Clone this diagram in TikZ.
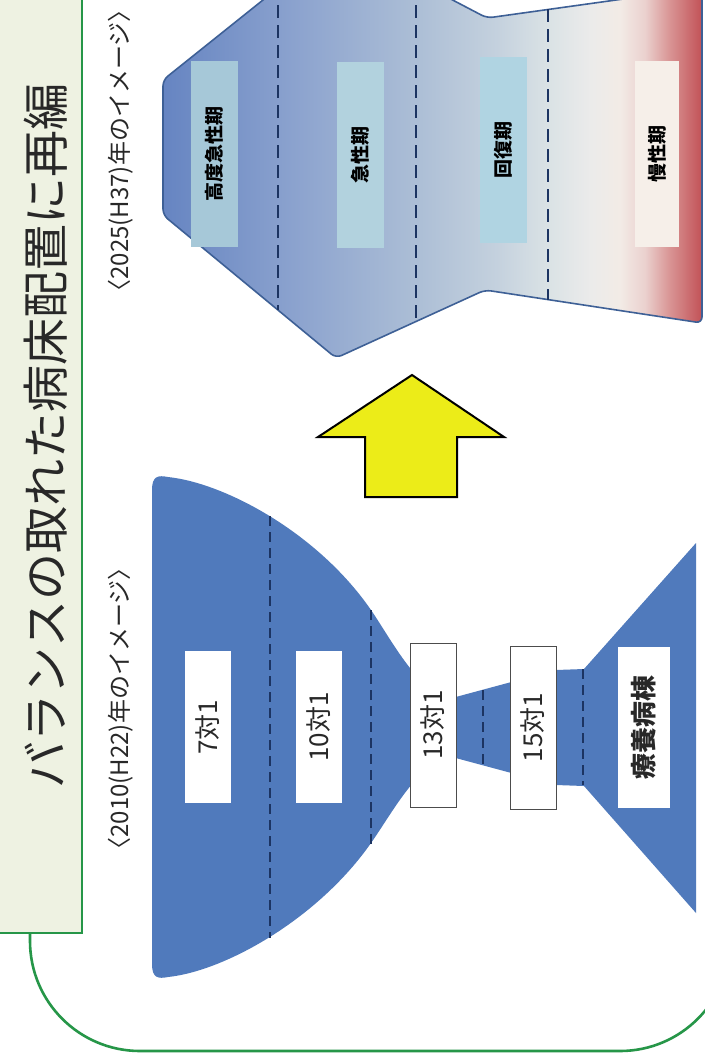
\documentclass[tikz,border=0pt]{standalone}
\usepackage{fontspec}
\setmainfont{Noto Sans CJK JP}

\definecolor{framegreen}{RGB}{38,150,72}
\definecolor{titlefill}{RGB}{238,242,226}
\definecolor{inkgray}{RGB}{40,40,40}
\definecolor{lowblue}{RGB}{80,122,188}
\definecolor{dashnavy}{RGB}{28,52,98}
\definecolor{upline}{RGB}{62,96,150}
\definecolor{arrowyellow}{RGB}{236,236,24}
\definecolor{hiacute}{RGB}{166,200,216}
\definecolor{acute}{RGB}{178,210,222}
\definecolor{recov}{RGB}{176,212,226}
\definecolor{chronic}{RGB}{246,239,233}

\pgfdeclarehorizontalshading{bedshade}{100bp}{rgb(0bp)=(0.40,0.52,0.76); rgb(25bp)=(0.40,0.52,0.76); rgb(37.5bp)=(0.55,0.64,0.81); rgb(49bp)=(0.68,0.75,0.84); rgb(56bp)=(0.77,0.82,0.87); rgb(61bp)=(0.86,0.89,0.90); rgb(64.5bp)=(0.92,0.92,0.92); rgb(67.4bp)=(0.95,0.92,0.90); rgb(69.7bp)=(0.92,0.82,0.81); rgb(72bp)=(0.85,0.58,0.58); rgb(75bp)=(0.76,0.32,0.34); rgb(100bp)=(0.76,0.32,0.34)}

\begin{document}
\begin{tikzpicture}[x=0.5pt,y=-0.5pt,
    lowbox/.style={rotate=90,fill=white,inner sep=0pt,minimum width=76pt,minimum height=23pt,text=inkgray,font=\fontsize{13}{13}\selectfont},
    lowboxline/.style={lowbox,draw=gray!60!black,line width=0.5pt},
    upbox/.style={rotate=90,inner sep=0pt,minimum width=93pt,minimum height=23.5pt,text=black,font=\fontsize{9.5}{10}\bfseries\selectfont},
    yearlabel/.style={rotate=90,inner sep=0pt,text=inkgray,font=\fontsize{12}{12}\selectfont},
    lowdash/.style={dashnavy,line width=0.8pt,dash pattern=on 5pt off 3pt},
    updash/.style={dashnavy,line width=1.1pt,dash pattern=on 6.5pt off 3.5pt}]
  \useasboundingbox (0,0) rectangle (705,1062);
  \clip (0,0) rectangle (705,1062);
  \fill[white] (0,0) rectangle (705,1062);
  % Ram
  \draw[framegreen,line width=1.3pt,rounded corners=55pt] (30,900) -- (30,1051) -- (730,1051) -- (730,-20);
  % Rubrik
  \draw[framegreen,fill=titlefill,line width=1.2pt] (-10,-10) rectangle (82,933);
  \node[rotate=90,text=inkgray,font=\fontsize{23.5}{24}\selectfont] (title) at (46,436) {バランスの取れた病床配置に再編};
  % Etiketter
  \node[yearlabel] (lab25) at (121,151) {〈2025(H37)年のイメージ〉};
  \node[yearlabel] (lab10) at (121,709) {〈2010(H22)年のイメージ〉};
  % 2025
  \shadedraw[shading=bedshade,draw=upline,line width=0.8pt,rounded corners=3pt]
    (163,215) -- (163,80) -- (338,-60) -- (487,18) -- (702,-12) -- (702,323) -- (485,290) -- (336,358) -- cycle;
  \foreach \x/\a/\b in {278/-15/310, 416/-15/321, 548/9/300}
    \draw[updash] (\x,\a) -- (\x,\b);
  \node[upbox,fill=hiacute] (hq) at (214.5,153.5) {高度急性期};
  \node[upbox,fill=acute] (ac) at (360.5,155) {急性期};
  \node[upbox,fill=recov] (rc) at (503.5,149.5) {回復期};
  \node[upbox,fill=chronic,minimum height=22pt] (ch) at (657,154) {慢性期};
  % Pil
  \draw[fill=arrowyellow,line width=1pt] (412,375) -- (504,437) -- (457,437) -- (457,497) -- (365,497) -- (365,437) -- (318,437) -- cycle;
  % 2010
  \begin{scope}[shift={(0,727)}]
    \fill[lowblue] (152,0) -- (152,-237) .. controls (152,-251) and (158,-252) .. (168,-250)
      .. controls (225,-244) and (318,-194) .. (371,-117)
      .. controls (391,-88) and (420,-31) .. (452,-29) -- (556,-57) -- (584,-58) -- (696,-184)
      -- (696,186) -- (584,59) -- (556,58) -- (452,30)
      .. controls (420,32) and (391,88) .. (371,116)
      .. controls (318,192) and (225,244) .. (168,250)
      .. controls (158,252) and (152,251) .. (152,237) -- cycle;
    \foreach \x/\h in {270/211, 371/117, 483/37, 583/58}
      \draw[lowdash] (\x,-\h) -- (\x,\h);
    \node[lowbox] (r7) at (208,0) {7対1};
    \node[lowbox] (r10) at (319,0) {10対1};
    \node[lowboxline,minimum width=82pt] (r13) at (433,-2) {13対1};
    \node[lowboxline,minimum width=81.5pt] (r15) at (533,0.5) {15対1};
    \node[lowbox,minimum width=80.5pt,minimum height=26pt,font=\fontsize{13}{13}\bfseries\selectfont] (ry) at (644,0.5) {療養病棟};
  \end{scope}
\end{tikzpicture}
\end{document}
